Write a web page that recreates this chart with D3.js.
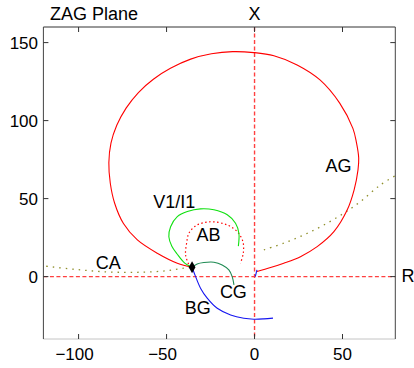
<!DOCTYPE html>
<html>
<head>
<meta charset="utf-8">
<script src="https://cdn.jsdelivr.net/npm/d3@7"></script>
<style>
  html, body { margin: 0; padding: 0; background: #fff; }
  svg { display: block; font-family: "Liberation Sans", Arial, Helvetica, sans-serif; }
</style>
</head>
<body>
<svg id="chart" width="414" height="368"></svg>
<script>
// Impedance trajectories in the ZAG plane (R horizontal, X vertical)
const xTicks = [-100, -50, 0, 50];
const yTicks = [0, 50, 100, 150];

// AG loop (phase A to ground)
const agPath = [[1.4,3.3],[9.1,5.8],[16.6,8.6],[26.1,12.8],[35.6,19.2],[45.1,28.8],[52.7,42.8],[56.6,55.6],
  [58.8,68.4],[59.2,76],[57.9,86],[55.9,95],[48.4,111.2],[37.2,126.1],[24.2,135.7],[11,141.6],[-0.4,143.6],
  [-12.5,144.2],[-24.5,142.8],[-36.3,139.4],[-47.8,133.5],[-57.5,126.5],[-66,118],[-73,108],[-78.3,97],
  [-81.6,85.5],[-82.8,73],[-82,60],[-79.5,47],[-74.5,34],[-66.6,23.5],[-55.3,15],[-43.9,8.6],[-35.5,6]];
// AB loop (phase-to-phase), dotted
const abPath = [[-37.5,8],[-39.2,13.9],[-38.6,21.4],[-37.3,27.8],[-33.5,32.5],[-28.8,34.6],[-23.1,35.1],
  [-15.5,33.1],[-9.8,28.8],[-6.6,22.4],[-6.4,15],[-8,8.6]];
// V1/I1 positive-sequence trajectory
const v1i1Path = [[-35.5,6],[-39.5,8.5],[-44,14.5],[-47,19.5],[-48.7,25.6],[-47.7,32],[-43.9,38.5],
  [-38.2,41.7],[-30.7,43.4],[-23.1,42.8],[-15.5,39.6],[-10.8,34.2],[-8.9,27.8],[-9.2,19.5]];
// CG trajectory
const cgPath = [[-35.5,6],[-32.6,8.1],[-28.8,9],[-23.1,9.2],[-18.4,7.5],[-14.6,4.3],[-12.7,0],[-11.7,-5.3]];
// BG trajectory
const bgPath = [[-35.5,6],[-33.5,0],[-30.7,-7.4],[-26.9,-13.8],[-21.2,-20.3],[-13.6,-24.6],[-6.1,-26.7],
  [-0.4,-27.3],[5.3,-27.1],[10.5,-26.6]];
// short segment at the origin
const originPath = [[0.4,0],[1.4,4.3]];
// CA characteristic, two dotted pieces
const caLeft = [[-122,7.1],[-102.7,4.7],[-83.7,3],[-64.8,2.8],[-49.6,3.8],[-40.2,5.4],[-35.5,6]];
const caRight = [[5.3,17.1],[16.6,21.4],[28,26.7],[39.4,33.1],[50.7,40.6],[60.2,48.1],[71.6,58.8],[82,66]];
// operating point
const junction = [-35.5, 6];

// curve labels
const labelText = ["AG", "V1/I1", "AB", "CA", "CG", "BG"];
const labelX = [40.3, -57.6, -33, -90.3, -19.7, -39.6];
const labelY = [67.3, 43.8, 23, 4.9, -13.8, -24.1];

const svg = d3.select("#chart");
const x = d3.scaleLinear().domain([-120, 80]).range([43.4, 395.3]);
const y = d3.scaleLinear().domain([-40, 160]).range([339, 27]);

svg.append("defs").append("clipPath").attr("id", "plot-clip")
  .append("rect")
  .attr("x", x(-120)).attr("y", y(160))
  .attr("width", x(80) - x(-120)).attr("height", y(-40) - y(160));

const plot = svg.append("g").attr("clip-path", "url(#plot-clip)");
const line = d3.line().x(d => x(d[0])).y(d => y(d[1])).curve(d3.curveCatmullRom.alpha(0.5));

// reference axes R = 0 and X = 0
plot.append("line")
  .attr("x1", x(-120)).attr("x2", x(80)).attr("y1", y(0)).attr("y2", y(0))
  .attr("stroke", "#ff4040").attr("stroke-width", 1.4).attr("stroke-dasharray", "4,2.5");
plot.append("line")
  .attr("x1", x(0)).attr("x2", x(0)).attr("y1", y(160)).attr("y2", y(-40))
  .attr("stroke", "#ff4040").attr("stroke-width", 1.4).attr("stroke-dasharray", "4,2.5");

const styles = [
  { d: caLeft,  stroke: "#8f8f2a", dash: "1.5,5", w: 1.3 },
  { d: caRight, stroke: "#8f8f2a", dash: "1.5,5", w: 1.3 },
  { d: abPath,  stroke: "#ff0000", dash: "1.5,2.5", w: 1.2 },
  { d: agPath,  stroke: "#ff0000", dash: null, w: 1.1 },
  { d: v1i1Path, stroke: "#11e011", dash: null, w: 1.1 },
  { d: cgPath,  stroke: "#1d8a52", dash: null, w: 1.1 },
  { d: bgPath,  stroke: "#1515f0", dash: null, w: 1.1 },
  { d: originPath, stroke: "#1515f0", dash: null, w: 1.1 }
];
styles.forEach(s => {
  plot.append("path")
    .attr("d", line(s.d))
    .attr("fill", "none")
    .attr("stroke", s.stroke)
    .attr("stroke-width", s.w)
    .attr("stroke-dasharray", s.dash);
});

// diamond marker at the operating point
plot.append("path")
  .attr("d", d3.symbol().type(d3.symbolDiamond).size(40)())
  .attr("transform", `translate(${x(junction[0])},${y(junction[1])})`)
  .attr("fill", "#000");

// frame with inward ticks on all four sides
const frame = svg.append("g");
const L = x(-120), R = x(80), T = y(160), B = y(-40);
frame.append("line").attr("x1", L).attr("x2", R).attr("y1", B).attr("y2", B).attr("stroke", "#c4c4c4");
frame.append("line").attr("x1", L).attr("x2", R).attr("y1", T).attr("y2", T).attr("stroke", "#333");
frame.append("line").attr("x1", L).attr("x2", L).attr("y1", T).attr("y2", B).attr("stroke", "#444");
frame.append("line").attr("x1", R).attr("x2", R).attr("y1", T).attr("y2", B).attr("stroke", "#444");

const tickLen = 5;
xTicks.forEach(t => {
  frame.append("line").attr("x1", x(t)).attr("x2", x(t)).attr("y1", B).attr("y2", B - tickLen).attr("stroke", "#333");
  frame.append("line").attr("x1", x(t)).attr("x2", x(t)).attr("y1", T).attr("y2", T + tickLen).attr("stroke", "#333");
});
yTicks.forEach(t => {
  frame.append("line").attr("x1", L).attr("x2", L + tickLen).attr("y1", y(t)).attr("y2", y(t)).attr("stroke", "#333");
  frame.append("line").attr("x1", R).attr("x2", R - tickLen).attr("y1", y(t)).attr("y2", y(t)).attr("stroke", "#333");
});

const fmt = v => (v < 0 ? "\u2212" + Math.abs(v) : String(v));
svg.append("g").selectAll("text").data(xTicks).join("text")
  .attr("x", d => x(d)).attr("y", 360)
  .attr("dx", d => (d < 0 ? -4 : 0))
  .attr("text-anchor", "middle")
  .attr("font-size", 17).attr("fill", "#000")
  .text(fmt);
svg.append("g").selectAll("text").data(yTicks).join("text")
  .attr("x", 38).attr("y", d => y(d)).attr("dy", "0.36em")
  .attr("text-anchor", "end")
  .attr("font-size", 17).attr("fill", "#000")
  .text(fmt);

// curve labels
svg.append("g").selectAll("text").data(labelText).join("text")
  .attr("x", (d, i) => x(labelX[i]))
  .attr("y", (d, i) => y(labelY[i]))
  .attr("font-size", 18).attr("fill", "#000")
  .text(d => d);

// axis names and title
svg.append("text").attr("x", 50).attr("y", 20).attr("font-size", 18).attr("fill", "#000").text("ZAG Plane");
svg.append("text").attr("x", x(0)).attr("y", 19.5).attr("text-anchor", "middle").attr("font-size", 18).attr("fill", "#000").text("X");
svg.append("text").attr("x", 401.5).attr("y", y(-3.2)).attr("font-size", 18).attr("fill", "#000").text("R");
</script>
</body>
</html>
